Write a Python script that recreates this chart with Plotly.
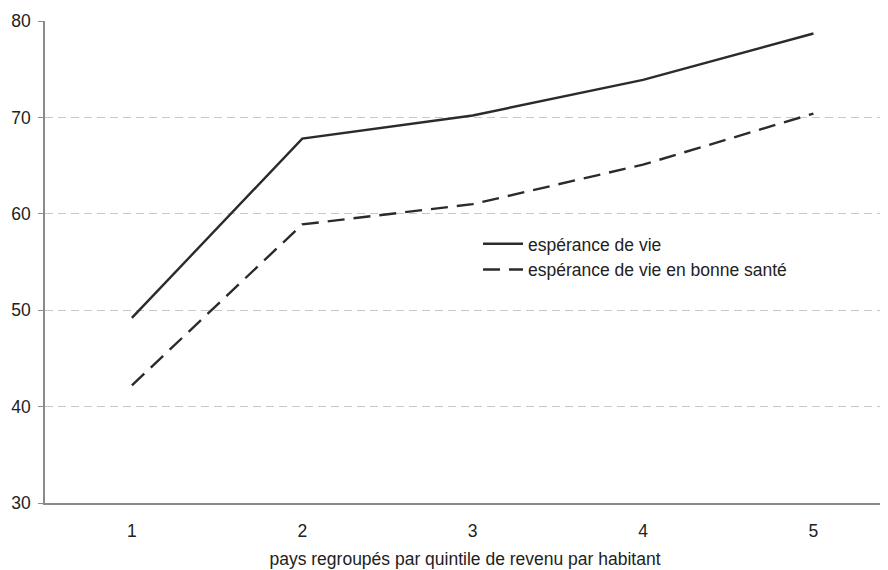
import plotly.graph_objects as go

quintiles = [1, 2, 3, 4, 5]
esperance_vie = [49.2, 67.8, 70.2, 73.9, 78.7]
esperance_bonne_sante = [42.2, 58.9, 61.0, 65.1, 70.4]
y_ticks = [30, 40, 50, 60, 70, 80]

font_family = "Liberation Sans, Arial, sans-serif"
dark = "#2b2b2b"
fs = 17.5

fig = go.Figure()
fig.add_trace(go.Scatter(
    x=quintiles, y=esperance_vie, mode="lines",
    name="espérance de vie",
    line=dict(color=dark, width=2.4, dash="solid"),
))
fig.add_trace(go.Scatter(
    x=quintiles, y=esperance_bonne_sante, mode="lines",
    name="espérance de vie en bonne santé",
    line=dict(color=dark, width=2.4, dash="17px,9px"),
))

fig.update_layout(
    width=880, height=562,
    margin=dict(l=37, r=3, t=10.7, b=66.7),
    paper_bgcolor="white", plot_bgcolor="white",
    font=dict(family=font_family, size=fs, color="#222222"),
    showlegend=True,
    legend=dict(
        x=0.5155, y=0.575, xanchor="left", yanchor="top",
        bgcolor="rgba(0,0,0,0)", borderwidth=0,
        font=dict(size=fs, color="#222222"),
        itemwidth=40, tracegroupgap=0,
    ),
    xaxis=dict(
        range=[0.49, 5.42], tickmode="array", tickvals=quintiles,
        ticktext=[str(q) for q in quintiles],
        showgrid=False, zeroline=False,
        showline=True, linecolor="#8a8a8a", linewidth=1.5,
        ticks="", ticklabelstandoff=11,
        title=dict(text="pays regroupés par quintile de revenu par habitant",
                   font=dict(size=fs), standoff=13),
    ),
    yaxis=dict(
        range=[30, 80], tickmode="array", tickvals=y_ticks,
        showgrid=True, gridcolor="#c8c8c8", gridwidth=1, griddash="8px,5px",
        zeroline=False,
        showline=True, linecolor="#8a8a8a", linewidth=1.5,
        ticks="outside", ticklen=5, tickcolor="#8a8a8a", tickwidth=1,
        ticklabelstandoff=4,
    ),
)

fig.write_html("out.html")
